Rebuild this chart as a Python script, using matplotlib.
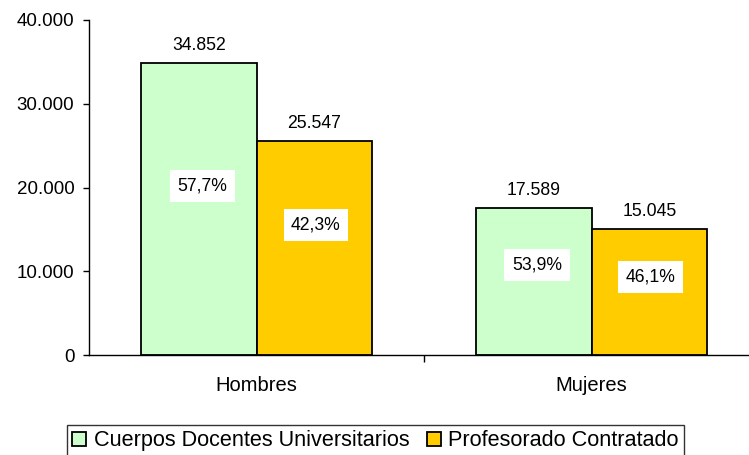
import matplotlib
matplotlib.use("Agg")
import matplotlib.pyplot as plt
import numpy as np

categories = ["Hombres", "Mujeres"]
series_names = ["Cuerpos Docentes Universitarios", "Profesorado Contratado"]
cuerpos = [34852, 17589]
contratado = [25547, 15045]
pct_cuerpos = ["57,7%", "53,9%"]
pct_contratado = ["42,3%", "46,1%"]
yticks = [0, 10000, 20000, 30000, 40000]
ytick_labels = ["0", "10.000", "20.000", "30.000", "40.000"]

plt.rcParams['font.family'] = ['Liberation Sans', 'DejaVu Sans']

fig = plt.figure(figsize=(7.49, 4.55), dpi=100)
W, H = 749, 455
ax = fig.add_axes([89 / W, 1 - 355 / H, 670 / W, 335 / H])

FS_LBL = 12.7
x = np.arange(len(categories))
bw = 0.345
b1 = ax.bar(x - bw / 2, cuerpos, bw, color="#ccffcc", edgecolor="black", linewidth=1.3,
            label=series_names[0])
b2 = ax.bar(x + bw / 2, contratado, bw, color="#ffcc00", edgecolor="black", linewidth=1.3,
            label=series_names[1])

def fmt(v):
    return f"{v:,}".replace(",", ".")

for rects in (b1, b2):
    for r in rects:
        ax.annotate(fmt(int(r.get_height())), (r.get_x() + r.get_width() / 2, r.get_height()),
                    xytext=(0, 6.5), textcoords="offset points", ha="center", va="bottom",
                    fontsize=FS_LBL)

# percentage label heights (label placement only)
pc_y = [20180, 10750]
pk_y = [15520, 9310]
for i in range(len(categories)):
    ax.text(x[i] - bw / 2 + 0.01, pc_y[i], pct_cuerpos[i], ha="center", va="center", fontsize=FS_LBL,
            bbox=dict(facecolor="white", edgecolor="none", pad=5.5))
    ax.text(x[i] + bw / 2 + 0.005, pk_y[i], pct_contratado[i], ha="center", va="center", fontsize=FS_LBL,
            bbox=dict(facecolor="white", edgecolor="none", pad=5.5))

ax.set_xlim(-0.5, 1.5)
ax.set_ylim(0, 40000)
ax.set_yticks(yticks)
ax.set_yticklabels(ytick_labels, fontsize=13.5)
ax.set_xticks([0.5], minor=True)
ax.set_xticks(x)
ax.set_xticklabels(categories, fontsize=14.5)
ax.tick_params(axis="x", which="major", length=0, pad=15)
ax.tick_params(axis="x", which="minor", length=5, width=1)
ax.tick_params(axis="y", length=4, width=1, pad=6.5)
ax.spines["top"].set_visible(False)
ax.spines["right"].set_visible(False)
for s in ("left", "bottom"):
    ax.spines[s].set_linewidth(1)

leg = fig.legend(handles=[b1, b2], loc="upper center", bbox_to_anchor=(375.5 / W, 1 - 425 / H),
                 ncol=2, frameon=True, fontsize=15.6, handlelength=0.65, handleheight=0.65,
                 handletextpad=0.35, columnspacing=0.8, borderpad=0.25, fancybox=False,
                 borderaxespad=0)
leg.get_frame().set_edgecolor("black")
leg.get_frame().set_linewidth(1)

fig.savefig("out.png", dpi=100)
